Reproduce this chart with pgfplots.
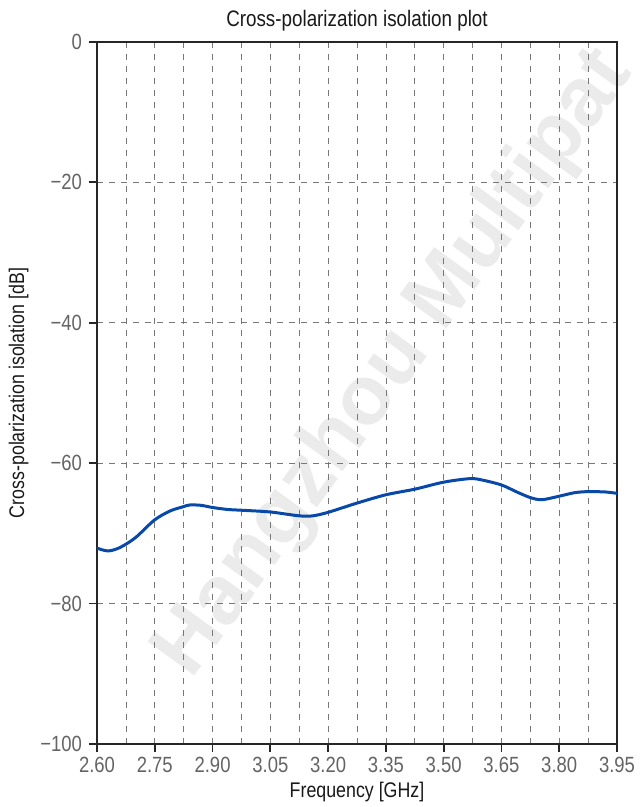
\documentclass[border=0pt]{standalone}
\usepackage{pgfplots}
\pgfplotsset{compat=1.18}
\usepackage{fontspec}
\setmainfont{Liberation Sans}[FakeStretch=0.84]
\newfontfamily\wmfont{Liberation Sans}
\definecolor{curveblue}{RGB}{8,72,168}
\definecolor{ticklab}{RGB}{100,100,100}
\definecolor{gridc}{RGB}{120,120,120}
\begin{document}
\begin{tikzpicture}
\useasboundingbox (-48.5pt,-31.5pt) rectangle (271pt,372pt);
\node[rotate=54, text=black!8, font={\wmfont\bfseries\fontsize{42}{42}\selectfont}] at (149pt,190pt) {Hangzhou Multipat};
\begin{axis}[
  at={(0pt,0pt)}, anchor=south west,
  scale only axis, width=260pt, height=351pt,
  xmin=2.6, xmax=3.95, ymin=-100, ymax=0,
  xtick={2.60,2.75,...,3.96},
  minor x tick num=1,
  ytick={-100,-80,-60,-40,-20,0},
  yticklabels={−100,−80,−60,−40,−20,0},
  xticklabels={2.60,2.75,2.90,3.05,3.20,3.35,3.50,3.65,3.80,3.95},
  tick align=outside,
  major tick length=4pt,
  minor tick length=0pt,
  xtick pos=bottom, ytick pos=left,
  grid=major,
  xminorgrids=true,
  major grid style={dashed, gridc, line width=0.35pt},
  minor grid style={dashed, gridc, line width=0.35pt},
  axis line style={line width=0.9pt, black!85},
  every tick/.style={line width=0.9pt, black!85},
  tick label style={font=\fontsize{11}{11}\selectfont, text=ticklab},
  xticklabel style={yshift=1pt},
  title={Cross-polarization isolation plot},
  title style={font=\fontsize{11.2}{12}\selectfont, yshift=-4pt, text=black!90},
  xlabel={Frequency [GHz]},
  ylabel={Cross-polarization isolation [dB]},
  label style={font=\fontsize{10.6}{11}\selectfont, text=black!90},
  xlabel style={yshift=2pt},
  ylabel style={yshift=-1pt},
]
\addplot[curveblue, line width=1.5pt, smooth, tension=0.5] coordinates {
(2.600,-72.1) (2.629,-72.5) (2.660,-72.0) (2.700,-70.6) (2.749,-68.1) (2.790,-66.8)
(2.824,-66.2) (2.841,-65.95) (2.870,-66.0) (2.899,-66.3) (2.940,-66.6) (2.975,-66.7)
(3.050,-66.95) (3.125,-67.5) (3.160,-67.5) (3.200,-67.0) (3.274,-65.7) (3.350,-64.5)
(3.425,-63.7) (3.500,-62.7) (3.568,-62.2) (3.600,-62.4) (3.650,-63.1) (3.690,-64.1) (3.725,-64.9)
(3.755,-65.2) (3.800,-64.7) (3.840,-64.2) (3.875,-64.05) (3.920,-64.1) (3.950,-64.3)
};
\end{axis}
\end{tikzpicture}
\end{document}
